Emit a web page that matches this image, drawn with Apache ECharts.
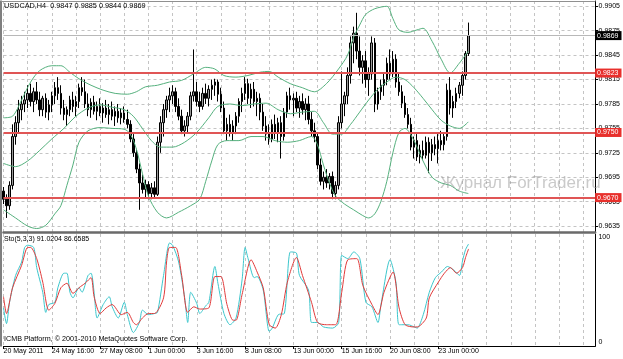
<!DOCTYPE html>
<html><head><meta charset="utf-8">
<script src="https://cdn.jsdelivr.net/npm/echarts@6/dist/echarts.min.js"></script>
<style>html,body{margin:0;padding:0;background:#fff}#c{width:623px;height:359px}</style>
</head><body><div id="c"></div>
<script>
// ---------------- data ----------------
const symbolName = 'USDCAD,H4';
const timeLabels = ['20 May 2011','24 May 16:00','27 May 08:00','1 Jun 00:00','3 Jun 16:00','8 Jun 08:00','13 Jun 00:00','15 Jun 16:00','20 Jun 08:00','23 Jun 00:00'];
const barsPerLabel = 16;
const barsPerGrid = 8;
const totalSlots = 197;
const priceTicks = [0.9905,0.9875,0.9845,0.9815,0.9785,0.9755,0.9725,0.9695,0.9665,0.9635];
const levelLines = [0.9823,0.9750,0.9670];
const bidPrice = 0.9869;
const stochTicks = [0,100];
const stochName = 'Sto(5,3,3)';
const copyright = 'ICMB Platform, \u00a9 2001-2010 MetaQuotes Software Corp.';
const watermark = 'Журнал ForTrader.ru';

const opens = [.9678,.9668,.9660,.9685,.9745,.9762,.9778,.9785,.9790,.9798,
.9788,.9800,.9790,.9778,.9792,.9775,.9784,.9795,.9805,.9798,
.9780,.9772,.9778,.9790,.9782,.9788,.9805,.9800,.9785,.9778,
.9787,.9776,.9782,.9774,.9780,.9772,.9778,.9770,.9776,.9768,
.9774,.9766,.9760,.9742,.9725,.9705,.9688,.9680,.9686,.9675,
.9682,.9674,.9738,.9762,.9778,.9790,.9795,.9800,.9782,.9770,
.9752,.9758,.9770,.9795,.9800,.9788,.9782,.9798,.9792,.9803,
.9808,.9812,.9797,.9780,.9752,.9760,.9750,.9758,.9770,.9788,
.9798,.9810,.9792,.9803,.9788,.9792,.9775,.9758,.9748,.9742,
.9760,.9750,.9762,.9745,.9775,.9795,.9790,.9792,.9780,.9788,
.9778,.9785,.9766,.9752,.9745,.9710,.9690,.9695,.9688,.9696,
.9675,.9685,.9762,.9785,.9795,.9820,.9860,.9872,.9850,.9830,
.9838,.9815,.9822,.9860,.9785,.9800,.9808,.9815,.9835,.9822,
.9840,.9812,.9800,.9786,.9772,.9760,.9732,.9740,.9720,.9728,
.9722,.9738,.9725,.9735,.9730,.9740,.9735,.9745,.9802,.9780,
.9788,.9798,.9808,.9820,.9847];
const highs = [.9683,.9674,.9690,.9760,.9770,.9790,.9795,.9800,.9808,.9810,
.9805,.9812,.9800,.9795,.9798,.9790,.9800,.9812,.9818,.9808,
.9790,.9782,.9795,.9800,.9795,.9810,.9818,.9815,.9798,.9792,
.9795,.9788,.9792,.9786,.9790,.9785,.9788,.9782,.9785,.9780,
.9782,.9778,.9765,.9748,.9730,.9712,.9698,.9692,.9690,.9688,
.9690,.9745,.9770,.9785,.9795,.9805,.9808,.9805,.9792,.9778,
.9765,.9775,.9800,.9852,.9812,.9800,.9805,.9810,.9808,.9815,
.9816,.9815,.9805,.9788,.9768,.9772,.9765,.9775,.9792,.9805,
.9818,.9816,.9810,.9812,.9800,.9798,.9785,.9770,.9760,.9766,
.9772,.9768,.9770,.9780,.9800,.9805,.9798,.9800,.9795,.9798,
.9792,.9795,.9775,.9762,.9750,.9718,.9702,.9705,.9700,.9702,
.9690,.9770,.9825,.9800,.9830,.9868,.9880,.9897,.9868,.9845,
.9850,.9830,.9868,.9866,.9805,.9815,.9822,.9842,.9852,.9850,
.9846,.9822,.9808,.9795,.9780,.9768,.9745,.9748,.9735,.9740,
.9745,.9744,.9742,.9745,.9748,.9752,.9750,.9810,.9818,.9795,
.9805,.9812,.9825,.9850,.9885];
const lows = [.9662,.9645,.9655,.9680,.9735,.9750,.9765,.9775,.9780,.9782,
.9775,.9785,.9770,.9770,.9768,.9765,.9775,.9785,.9790,.9772,
.9765,.9758,.9770,.9775,.9770,.9780,.9795,.9780,.9770,.9768,
.9772,.9765,.9770,.9762,.9768,.9760,.9765,.9758,.9762,.9760,
.9762,.9755,.9738,.9720,.9700,.9655,.9675,.9670,.9668,.9668,
.9670,.9672,.9725,.9745,.9768,.9775,.9785,.9775,.9765,.9748,
.9745,.9750,.9765,.9788,.9782,.9775,.9778,.9785,.9782,.9790,
.9795,.9788,.9775,.9748,.9740,.9745,.9740,.9748,.9762,.9775,
.9790,.9785,.9780,.9782,.9770,.9765,.9752,.9740,.9735,.9738,
.9742,.9738,.9718,.9740,.9768,.9778,.9770,.9775,.9768,.9772,
.9765,.9760,.9745,.9738,.9705,.9685,.9680,.9682,.9680,.9668,
.9668,.9680,.9755,.9770,.9785,.9810,.9835,.9840,.9820,.9810,
.9805,.9795,.9815,.9775,.9778,.9790,.9795,.9808,.9815,.9818,
.9805,.9795,.9780,.9768,.9755,.9728,.9718,.9715,.9712,.9716,
.9718,.9700,.9715,.9722,.9712,.9728,.9728,.9740,.9772,.9768,
.9780,.9792,.9795,.9815,.9844];
const closes = [.9668,.9660,.9685,.9745,.9762,.9778,.9785,.9790,.9798,.9788,
.9800,.9790,.9778,.9792,.9775,.9784,.9795,.9805,.9798,.9780,
.9772,.9778,.9790,.9782,.9788,.9805,.9800,.9785,.9778,.9787,
.9776,.9782,.9774,.9780,.9772,.9778,.9770,.9776,.9768,.9774,
.9766,.9760,.9742,.9725,.9705,.9688,.9680,.9686,.9675,.9682,
.9674,.9738,.9762,.9778,.9790,.9795,.9800,.9782,.9770,.9752,
.9758,.9770,.9795,.9800,.9788,.9782,.9798,.9792,.9803,.9808,
.9812,.9797,.9780,.9752,.9760,.9750,.9758,.9770,.9788,.9798,
.9810,.9792,.9803,.9788,.9792,.9775,.9758,.9748,.9742,.9760,
.9750,.9762,.9745,.9775,.9795,.9790,.9792,.9780,.9788,.9778,
.9785,.9766,.9752,.9745,.9710,.9690,.9695,.9688,.9696,.9675,
.9685,.9762,.9785,.9795,.9820,.9860,.9872,.9850,.9830,.9838,
.9815,.9822,.9860,.9785,.9800,.9808,.9815,.9835,.9822,.9840,
.9812,.9800,.9786,.9772,.9760,.9732,.9740,.9720,.9728,.9722,
.9738,.9725,.9735,.9730,.9740,.9735,.9745,.9802,.9780,.9788,
.9798,.9808,.9820,.9847,.9869];

// Bollinger bands: [bar index, price]
const bbUpper = [[0,.9768],[3,.9770],[6,.9790],[9,.9812],[12,.9826],[16,.9832],[19,.9832],[22,.9824],[25,.9816],[29,.9808],[33,.9802],[37,.9798],[41,.9797],[44,.9800],[47,.9806],[51,.9808],[55,.9812],[59,.9814],[63,.9822],[67,.9830],[70,.9828],[73,.9820],[77,.9818],[81,.9820],[85,.9824],[88,.9825],[91,.9818],[95,.9810],[99,.9805],[103,.9800],[107,.9810],[111,.9828],[114,.9845],[116,.9867],[118,.9882],[120,.9895],[123,.9902],[127,.9905],[129,.9890],[131,.9876],[134,.9873],[137,.9876],[139,.9878],[142,.9862],[145,.9840],[148,.9823],[151,.9835],[154,.9850]];
const bbMiddle = [[0,.9712],[4,.9708],[8,.9715],[12,.9728],[16,.9742],[20,.9755],[24,.9770],[28,.9780],[32,.9784],[36,.9781],[40,.9778],[43,.9770],[46,.9755],[49,.9740],[52,.9732],[56,.9732],[60,.9738],[64,.9750],[68,.9768],[71,.9782],[75,.9785],[79,.9783],[83,.9785],[87,.9786],[91,.9778],[95,.9773],[99,.9775],[103,.9776],[106,.9762],[109,.9748],[112,.9748],[115,.9760],[118,.9775],[121,.9790],[124,.9803],[127,.9812],[130,.9818],[133,.9815],[136,.9805],[139,.9792],[142,.9778],[145,.9765],[148,.9758],[151,.9755],[154,.9763]];
const bbLower = [[0,.9655],[4,.9645],[8,.9635],[11,.9632],[14,.9636],[17,.9650],[19,.9660],[21,.9685],[23,.9710],[25,.9738],[28,.9752],[32,.9756],[36,.9755],[40,.9754],[42,.9748],[44,.9730],[46,.9700],[48,.9672],[51,.9652],[54,.9645],[58,.9652],[62,.9660],[65,.9668],[67,.9690],[69,.9715],[71,.9735],[74,.9740],[78,.9740],[82,.9745],[86,.9745],[90,.9740],[94,.9738],[98,.9740],[102,.9745],[104,.9735],[106,.9710],[108,.9688],[110,.9672],[113,.9662],[116,.9655],[119,.9648],[121,.9645],[123,.9650],[125,.9665],[127,.9690],[129,.9725],[131,.9750],[133,.9755],[136,.9740],[139,.9715],[142,.9695],[145,.9688],[148,.9685],[151,.9678],[154,.9675]];

// Stochastic: [bar index, value]
const stochK = [[0,34],[1,20],[2,39],[4,63],[6,75],[7,88],[8,90],[10,88],[11,70],[13,48],[14,30],[15,37],[17,39],[18,52],[20,65],[21,65],[22,48],[23,43],[25,52],[26,48],[28,63],[29,65],[30,48],[31,25],[33,37],[35,44],[36,35],[38,25],[40,39],[41,28],[43,12],[45,21],[46,32],[48,28],[50,29],[51,30],[53,63],[55,92],[56,90],[58,75],[60,43],[61,21],[62,48],[64,38],[65,29],[67,36],[68,39],[70,71],[71,56],[73,29],[75,19],[77,25],[79,59],[80,88],[81,78],[83,61],[84,62],[86,50],[88,13],[89,16],[91,28],[93,29],[95,84],[97,83],[98,63],[101,50],[102,21],[104,21],[106,17],[109,16],[111,21],[112,81],[114,78],[116,84],[118,78],[120,39],[122,35],[124,21],[125,37],[128,77],[130,56],[131,19],[134,19],[136,17],[137,16],[139,28],[141,48],[143,61],[145,66],[147,71],[149,68],[151,63],[152,76],[153,86],[154,91.0204]];
const stochD = [[0,44],[1,29],[3,52],[6,72],[8,88],[9,88],[11,78],[13,57],[15,32],[17,38],[19,52],[21,56],[23,47],[25,52],[27,56],[29,61],[30,44],[32,29],[34,34],[36,37],[39,28],[41,30],[43,21],[44,19],[46,25],[48,29],[50,29],[53,43],[54,75],[55,88],[57,88],[59,63],[61,30],[63,35],[65,33],[68,34],[70,62],[72,62],[74,37],[76,23],[77,23],[79,46],[82,77],[84,66],[86,52],[88,19],[90,16],[92,28],[94,57],[97,79],[99,63],[102,39],[104,21],[107,19],[110,19],[112,48],[114,77],[117,78],[119,54],[122,37],[124,28],[126,48],[129,66],[131,34],[133,19],[136,17],[137,17],[140,25],[141,43],[144,57],[146,65],[148,70],[150,65],[152,70],[153,79],[154,86.6585]];

// ---------------- chart ----------------
const FONT = 'Liberation Sans';
const candles = opens.map((o, i) => [o, closes[i], lows[i], highs[i]]);
const cats = Array.from({length: totalSlots}, (_, i) => String(i));
const last = opens.length - 1;
const pMin = 0.962773, pMax = 0.991151;
const gridLeft = 3.5, gridRight = 27.6;

const labelEvery = (idx) => idx % barsPerLabel === 0 && (idx / barsPerLabel) < timeLabels.length;
const gridEvery = (idx) => idx % barsPerGrid === 0;
const dashed = {color: '#c4c4c4', type: [3, 3], width: 1};

const levelData = levelLines.map(v => ({
  yAxis: v,
  lineStyle: {color: '#e05555', width: 2, type: 'solid'},
  label: {show: true, position: 'end', distance: 0, formatter: v.toFixed(4), color: '#fff',
          backgroundColor: '#e8302c', padding: [1, 3, 1, 2], fontSize: 7, fontFamily: FONT}
}));
levelData.unshift({
  yAxis: bidPrice,
  lineStyle: {color: '#b8b8b8', width: 1, type: 'solid'},
  label: {show: true, position: 'end', distance: 0, formatter: bidPrice.toFixed(4), color: '#fff',
          backgroundColor: '#000', padding: [1, 3, 1, 2], fontSize: 7, fontFamily: FONT}
});

const chart = echarts.init(document.getElementById('c'), null, {renderer: 'canvas'});
chart.setOption({
  animation: false,
  backgroundColor: '#fff',
  textStyle: {fontFamily: FONT},
  title: [
    {text: `${symbolName}  ${opens[last].toFixed(4)} ${highs[last].toFixed(4)} ${lows[last].toFixed(4)} ${closes[last].toFixed(4)}`,
     left: 4, top: 2.5, padding: 0, textStyle: {fontSize: 7.3, fontWeight: 'normal', color: '#000', fontFamily: FONT}},
    {text: `${stochName} ${stochK[stochK.length-1][1].toFixed(4)} ${stochD[stochD.length-1][1].toFixed(4)}`,
     left: 4, top: 235.5, padding: 0, textStyle: {fontSize: 7, fontWeight: 'normal', color: '#000', fontFamily: FONT}},
    {text: copyright, left: 4, top: 335.5, padding: 0, textStyle: {fontSize: 7.2, fontWeight: 'normal', color: '#000', fontFamily: FONT}},
    {text: watermark, left: 440, top: 175, padding: 0, z: 10,
     textStyle: {fontSize: 17, fontWeight: 'normal', color: 'rgba(150,150,150,0.5)', fontFamily: FONT}}
  ],
  graphic: [
    {type: 'line', shape: {x1: 1, y1: 0.5, x2: 1, y2: 346.5}, style: {stroke: '#000', lineWidth: 1}, z: 50},
    {type: 'line', shape: {x1: 1, y1: 1.5, x2: 595.4, y2: 1.5}, style: {stroke: '#909090', lineWidth: 1}, z: 50}
  ],
  grid: [
    {left: gridLeft, right: gridRight, top: 1, height: 231},
    {left: gridLeft, right: gridRight, top: 234, height: 112}
  ],
  xAxis: [
    {type: 'category', gridIndex: 0, data: cats, boundaryGap: false,
     axisLine: {show: true, lineStyle: {color: '#6a6a6a', width: 2.5}},
     axisTick: {show: false}, axisLabel: {show: false},
     splitLine: {show: true, interval: (i) => gridEvery(i), lineStyle: dashed}},
    {type: 'category', gridIndex: 1, data: cats, boundaryGap: false,
     axisLine: {show: true, lineStyle: {color: '#000', width: 1}},
     axisTick: {show: true, length: 3, interval: (i) => labelEvery(i), lineStyle: {color: '#000'}},
     axisLabel: {show: true, interval: (i) => labelEvery(i), align: 'left', margin: 2,
                 fontSize: 7, color: '#000', fontFamily: FONT,
                 formatter: (v, i) => labelEvery(i) ? timeLabels[i / barsPerLabel] : ''},
     splitLine: {show: true, interval: (i) => gridEvery(i), lineStyle: dashed}}
  ],
  yAxis: [
    {type: 'value', gridIndex: 0, position: 'right', min: pMin, max: pMax, scale: true,
     axisLine: {show: true, lineStyle: {color: '#000', width: 1}},
     axisTick: {show: true, length: 3, customValues: priceTicks, lineStyle: {color: '#000'}},
     axisLabel: {show: true, customValues: priceTicks, margin: 3.5, fontSize: 7, color: '#000', fontFamily: FONT,
                 formatter: (v) => v.toFixed(4)},
     splitLine: {show: true, lineStyle: dashed}},
    {type: 'value', gridIndex: 1, position: 'right', min: 0, max: 100,
     axisLine: {show: true, lineStyle: {color: '#000', width: 1}},
     axisTick: {show: false, customValues: stochTicks},
     axisLabel: {show: true, customValues: stochTicks, margin: 3, fontSize: 7, color: '#000', fontFamily: FONT,
                 verticalAlignMinLabel: 'bottom', verticalAlignMaxLabel: 'top'},
     splitLine: {show: false}}
  ],
  series: [
    {type: 'candlestick', xAxisIndex: 0, yAxisIndex: 0, data: candles, barWidth: 2,
     itemStyle: {color: '#9a9a9a', color0: '#000', borderColor: '#000', borderColor0: '#000', borderWidth: 1}},
    {type: 'line', name: 'BB upper', xAxisIndex: 0, yAxisIndex: 0, data: bbUpper, showSymbol: false, smooth: 0.3,
     lineStyle: {color: '#55b07d', width: 1}, z: 3},
    {type: 'line', name: 'BB middle', xAxisIndex: 0, yAxisIndex: 0, data: bbMiddle, showSymbol: false, smooth: 0.3,
     lineStyle: {color: '#55b07d', width: 1}, z: 3},
    {type: 'line', name: 'BB lower', xAxisIndex: 0, yAxisIndex: 0, data: bbLower, showSymbol: false, smooth: 0.3,
     lineStyle: {color: '#55b07d', width: 1}, z: 3},
    {type: 'line', name: 'levels', xAxisIndex: 0, yAxisIndex: 0, data: [], showSymbol: false, z: 4,
     markLine: {silent: true, symbol: ['none', 'none'], precision: 4, animation: false, data: levelData}},
    {type: 'line', name: '%K', xAxisIndex: 1, yAxisIndex: 1, data: stochK, showSymbol: false, smooth: 0.25,
     lineStyle: {color: '#3cc6cc', width: 1}},
    {type: 'line', name: '%D', xAxisIndex: 1, yAxisIndex: 1, data: stochD, showSymbol: false, smooth: 0.25,
     lineStyle: {color: '#e03a3a', width: 1}}
  ]
});
</script>
</body></html>
